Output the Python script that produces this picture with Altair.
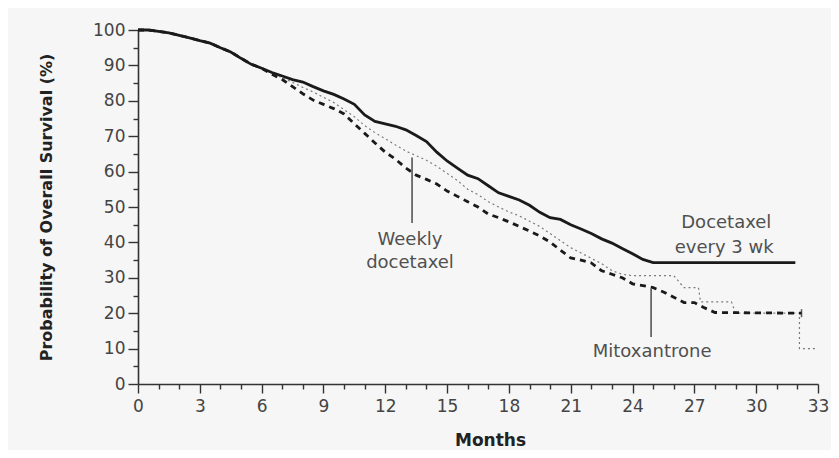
import altair as alt
import pandas as pd

# ---- data (months, % surviving) ----
q3w_months = [0, 0.5, 1, 1.5, 2, 2.5, 3, 3.5, 4, 4.5, 5, 5.5, 6, 6.5, 7, 7.5, 8, 8.5, 9, 9.5,
              10, 10.5, 11, 11.5, 12, 12.5, 13, 13.5, 14, 14.5, 15, 15.5, 16, 16.5, 17, 17.5,
              18, 18.5, 19, 19.5, 20, 20.5, 21, 21.5, 22, 22.5, 23, 23.5, 24, 24.5, 25, 31.9]
q3w_pct = [100, 100, 99.6, 99.2, 98.5, 97.8, 97, 96.3, 95, 93.8, 92, 90.3, 89.2, 88, 87, 86,
           85.3, 84, 82.8, 81.8, 80.5, 79, 76, 74.2, 73.5, 72.8, 71.8, 70.2, 68.5, 65.5, 63, 61,
           59, 58, 56, 54, 53, 52, 50.5, 48.5, 47, 46.5, 45, 43.8, 42.5, 41, 39.8, 38.3, 36.8,
           35.2, 34.3, 34.3]

mito_months = [0, 0.5, 1, 1.5, 2, 2.5, 3, 3.5, 4, 4.5, 5, 5.5, 6, 6.5, 7, 7.5, 8, 8.5, 9, 9.5,
               10, 10.5, 11, 11.5, 12, 12.5, 13, 13.5, 14, 14.5, 15, 15.5, 16, 16.5, 17, 17.5,
               18, 18.5, 19, 19.5, 20, 20.5, 21, 21.5, 22, 22.5, 23, 23.5, 24, 24.5, 25, 25.5,
               26, 26.5, 27, 27.5, 28, 32.2]
mito_pct = [100, 100, 99.6, 99.2, 98.5, 97.8, 97, 96.3, 95, 93.8, 92, 90.3, 89.2, 87.5, 86, 84,
            82, 80.2, 79, 77.8, 76.3, 73.5, 70.8, 68.1, 65.5, 63.5, 61, 59, 57.8, 56.5, 54.5, 53,
            51.5, 50, 48, 47, 45.8, 44.5, 43.2, 41.8, 40.1, 37.8, 35.6, 35, 34.2, 32, 31, 30,
            28.3, 27.8, 27.2, 26, 24.5, 23, 23, 21.5, 20.2, 20]

weekly_months = [0, 0.5, 1, 1.5, 2, 2.5, 3, 3.5, 4, 4.5, 5, 5.5, 6, 6.5, 7, 7.5, 8, 8.5, 9, 9.5,
                 10, 10.5, 11, 11.5, 12, 12.5, 13, 13.5, 14, 14.5, 15, 15.5, 16, 16.5, 17, 17.5,
                 18, 18.5, 19, 19.5, 20, 20.5, 21, 21.5, 22, 22.5, 23, 23.5, 24, 26, 26.5, 27.2,
                 27.3, 28.8, 29, 32.1, 32.1, 33]
weekly_pct = [100, 100, 99.6, 99.2, 98.5, 97.8, 97, 96.3, 95, 93.8, 92, 90.3, 89.2, 87.8, 86.5,
              85.2, 83.8, 82.5, 81, 79.5, 77.5, 75.5, 73, 71, 69.3, 67.5, 65.8, 64.5, 63.2, 61.5,
              59.5, 57.5, 55, 53.5, 51.5, 50, 48.6, 47.5, 46, 44.5, 42.5, 40.5, 38.5, 37, 35.5,
              34, 32, 31, 30.6, 30.6, 27.2, 27.2, 23.2, 23.2, 20, 20, 10, 10]

# censor tick at end of mitoxantrone curve
censor_month = [32.2]
censor_pct = [20]

# annotation pointers (month, from %, to %)
ptr_month = [13.3, 24.9]
ptr_top = [64, 27]
ptr_bottom = [45.5, 13.3]

# annotation labels
lab_text = ["Weekly", "docetaxel", "Docetaxel", "every 3 wk", "Mitoxantrone"]
lab_month = [13.2, 13.2, 28.55, 28.45, 24.95]
lab_pct = [40.7, 34.2, 45.5, 38.4, 9.0]

x_ticks = list(range(0, 34))
y_ticks = list(range(0, 101, 5))

def series(m, p):
    return pd.DataFrame({"month": m, "pct": p, "order": list(range(len(m)))})

q3w = series(q3w_months, q3w_pct)
mito = series(mito_months, mito_pct)
weekly = series(weekly_months, weekly_pct)
censor = pd.DataFrame({"month": censor_month, "pct": censor_pct})
ptrs = pd.DataFrame({"month": ptr_month, "top": ptr_top, "bottom": ptr_bottom})
labels = pd.DataFrame({"text": lab_text, "month": lab_month, "pct": lab_pct})

xscale = alt.Scale(domain=[0, 33], nice=False, zero=False)
yscale = alt.Scale(domain=[0, 100], nice=False)

xaxis = alt.Axis(
    title="Months", values=x_ticks,
    labelExpr="datum.value % 3 === 0 ? datum.label : ''",
    tickSize={"condition": {"test": "datum.value % 3 === 0", "value": 9}, "value": 5},
    labelFontSize=17, labelPadding=5, labelFlush=False, labelOverlap=False,
    labelBound=False,
    titleFontSize=17, titleFontWeight="bold", titleColor="#222",
    titleX=352, titleY=56, titleBaseline="middle", titleAlign="center",
)
yaxis = alt.Axis(
    title="Probability of Overall Survival (%)", values=y_ticks,
    labelExpr="datum.value % 10 === 0 ? datum.label : ''",
    tickSize={"condition": {"test": "datum.value % 10 === 0", "value": 10}, "value": 5},
    labelFontSize=17, labelPadding=3, labelOverlap=False, labelFlush=False,
    labelBound=False,
    titleFontSize=16, titleFontWeight="bold", titleColor="#222",
    titleX=-92, titleY=177, titleBaseline="middle", titleAlign="center",
)

X = lambda f="month:Q": alt.X(f, scale=xscale, axis=xaxis)
Y = lambda f: alt.Y(f, scale=yscale, axis=yaxis)

def line(df, **kw):
    return alt.Chart(df).mark_line(**kw).encode(
        x=X(), y=Y("pct:Q"), order="order:Q",
    )

weekly_l = line(weekly, color="#7a7a7a", strokeWidth=1.2, strokeDash=[2, 3])
mito_l = line(mito, color="#1a1a1a", strokeWidth=2.8, strokeDash=[6, 5])
q3w_l = line(q3w, color="#1a1a1a", strokeWidth=2.8)

censor_m = alt.Chart(censor).mark_tick(orient="vertical", size=8, thickness=1.5, color="#1a1a1a").encode(
    x=X(), y=Y("pct:Q")
)

ptr_m = alt.Chart(ptrs).mark_rule(color="#555555", strokeWidth=1.6).encode(
    x=X(), y=Y("top:Q"), y2="bottom:Q",
)

lab_m = alt.Chart(labels).mark_text(
    font="DejaVu Sans", fontSize=18, color="#505050", align="center", baseline="middle"
).encode(
    x=X(), y=Y("pct:Q"), text="text:N",
)

chart = alt.layer(weekly_l, mito_l, q3w_l, censor_m, ptr_m, lab_m).properties(
    width=680, height=354,
    autosize=alt.AutoSizeParams(type="none"),
    padding={"left": 130, "top": 22, "right": 13, "bottom": 66},
).configure(
    background="#f6f6f6",
    font="DejaVu Sans",
).configure_view(
    stroke=None,
).configure_axis(
    grid=False,
    domainColor="#333333", domainWidth=1.6,
    tickColor="#333333", tickWidth=1.4,
    labelColor="#444444", labelFont="DejaVu Sans", titleFont="DejaVu Sans",
)

chart.save("out.html", embed_options={"renderer": "svg", "actions": False})
